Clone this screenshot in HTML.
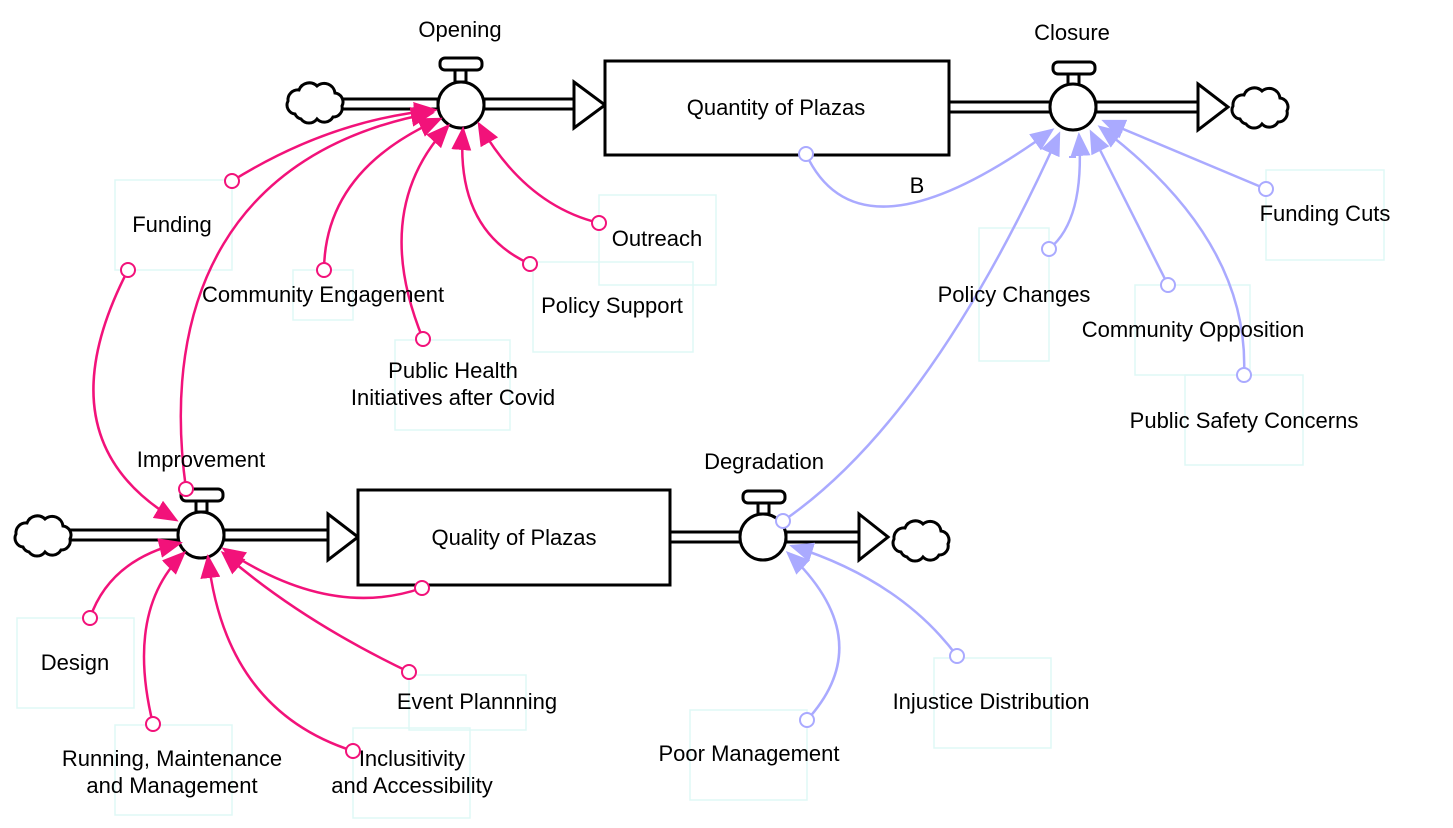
<!DOCTYPE html>
<html><head><meta charset="utf-8"><style>
html,body{margin:0;padding:0;background:#fff}
svg{display:block}
text{font-family:"Liberation Sans",Arial,sans-serif;font-size:22px;fill:#000}
</style></head><body>
<svg width="1453" height="828" viewBox="0 0 1453 828" xmlns="http://www.w3.org/2000/svg">
<defs>
<marker id="mp" markerWidth="24" markerHeight="20" refX="21" refY="10" orient="auto" markerUnits="userSpaceOnUse"><path d="M0,0 L24,10 L0,20 Z" fill="#f2127a"/></marker>
<marker id="mb" markerWidth="24" markerHeight="20" refX="21" refY="10" orient="auto" markerUnits="userSpaceOnUse"><path d="M0,0 L24,10 L0,20 Z" fill="#aaaaff"/></marker>
<g id="cloud"><path d="M-20,9 a9,9 0 0 1 -7,-13 a10,10 0 0 1 11,-11 a11,11 0 0 1 18,-4 a11,11 0 0 1 18,7 a9,9 0 0 1 7,13 a9,9 0 0 1 -9,11 a10,10 0 0 1 -16,2 a10,10 0 0 1 -16,0 a9,9 0 0 1 -6,-5 z" fill="#fff" stroke="#000" stroke-width="3"/></g>
</defs>

<g fill="none" stroke="#dff8f6" stroke-width="1.5">
<rect x="115" y="180" width="117" height="90"/><rect x="293" y="270" width="60" height="50"/>
<rect x="395" y="340" width="115" height="90"/><rect x="533" y="262" width="160" height="90"/>
<rect x="599" y="195" width="117" height="90"/><rect x="979" y="228" width="70" height="133"/>
<rect x="1135" y="285" width="115" height="90"/><rect x="1185" y="375" width="118" height="90"/>
<rect x="1266" y="170" width="118" height="90"/><rect x="17" y="618" width="117" height="90"/>
<rect x="115" y="725" width="117" height="90"/><rect x="353" y="728" width="117" height="90"/>
<rect x="409" y="675" width="117" height="55"/><rect x="690" y="710" width="117" height="90"/>
<rect x="934" y="658" width="117" height="90"/>
</g>

<g fill="#fff" stroke="#000" stroke-width="3">
<rect x="338" y="99" width="100" height="10"/>
<rect x="484" y="99" width="92" height="10"/>
<path d="M574,82 L605,105 L574,128 Z"/>
<rect x="949" y="102" width="102" height="10"/>
<rect x="1096" y="102" width="104" height="10"/>
<path d="M1198,84 L1228,107 L1198,130 Z"/>
<rect x="68" y="530" width="112" height="10"/>
<rect x="224" y="530" width="106" height="10"/>
<path d="M328,514 L358,537 L328,560 Z"/>
<rect x="670" y="532" width="72" height="10"/>
<rect x="786" y="532" width="75" height="10"/>
<path d="M859,514 L888,537 L859,560 Z"/>
</g>
<use href="#cloud" x="315" y="105"/>
<use href="#cloud" x="1260" y="110"/>
<use href="#cloud" x="43" y="538"/>
<use href="#cloud" x="921" y="543"/>

<rect x="605" y="61" width="344" height="94" fill="#fff" stroke="#000" stroke-width="3"/>
<rect x="358" y="490" width="312" height="95" fill="#fff" stroke="#000" stroke-width="3"/>
<text x="776" y="115" text-anchor="middle">Quantity of Plazas</text>
<text x="514" y="545" text-anchor="middle">Quality of Plazas</text>

<g fill="#fff" stroke="#000" stroke-width="3">
<rect x="440" y="58" width="42" height="12" rx="5"/><rect x="455" y="70" width="11" height="12"/><circle cx="461" cy="105" r="23"/>
<rect x="1053" y="62" width="42" height="12" rx="5"/><rect x="1068" y="74" width="11" height="11"/><circle cx="1073" cy="107" r="23"/>
<rect x="181" y="489" width="42" height="12" rx="5"/><rect x="196" y="501" width="11" height="11"/><circle cx="201" cy="535" r="23"/>
<rect x="743" y="491" width="42" height="12" rx="5"/><rect x="758" y="503" width="11" height="11"/><circle cx="763" cy="537" r="23"/>
</g>

<g fill="none" stroke="#f2127a" stroke-width="2.5">
<path d="M232,181 Q330,120 435,110" marker-end="url(#mp)"/>
<path d="M186,489 C160,300 230,150 432,113" marker-end="url(#mp)"/>
<path d="M324,270 Q325,170 440,119" marker-end="url(#mp)"/>
<path d="M423,339 Q370,210 448,126" marker-end="url(#mp)"/>
<path d="M530,264 Q455,230 463,129" marker-end="url(#mp)"/>
<path d="M599,223 Q525,205 479,124" marker-end="url(#mp)"/>
<path d="M128,270 Q40,440 176,520" marker-end="url(#mp)"/>
<path d="M90,618 Q110,560 180,543" marker-end="url(#mp)"/>
<path d="M153,724 Q125,610 184,553" marker-end="url(#mp)"/>
<path d="M353,751 Q225,710 208,557" marker-end="url(#mp)"/>
<path d="M409,672 Q300,620 223,553" marker-end="url(#mp)"/>
<path d="M422,588 Q330,620 224,549" marker-end="url(#mp)"/>
</g>
<g fill="#fff" stroke="#f2127a" stroke-width="2">
<circle cx="232" cy="181" r="7"/><circle cx="186" cy="489" r="7"/><circle cx="324" cy="270" r="7"/>
<circle cx="423" cy="339" r="7"/><circle cx="530" cy="264" r="7"/><circle cx="599" cy="223" r="7"/>
<circle cx="128" cy="270" r="7"/><circle cx="90" cy="618" r="7"/><circle cx="153" cy="724" r="7"/>
<circle cx="353" cy="751" r="7"/><circle cx="409" cy="672" r="7"/><circle cx="422" cy="588" r="7"/>
</g>

<g fill="none" stroke="#aaaaff" stroke-width="2.5">
<path d="M806,154 Q860,270 1052,130" marker-end="url(#mb)"/>
<path d="M783,521 Q930,420 1059,134" marker-end="url(#mb)"/>
<path d="M1049,249 Q1085,220 1079,135" marker-end="url(#mb)"/>
<path d="M1168,285 Q1130,210 1091,132" marker-end="url(#mb)"/>
<path d="M1244,375 Q1250,240 1100,127" marker-end="url(#mb)"/>
<path d="M1266,189 L1104,121" marker-end="url(#mb)"/>
<path d="M807,720 Q880,640 788,553" marker-end="url(#mb)"/>
<path d="M957,656 Q900,580 792,546" marker-end="url(#mb)"/>
</g>
<g fill="#fff" stroke="#aaaaff" stroke-width="2">
<circle cx="806" cy="154" r="7"/><circle cx="783" cy="521" r="7"/><circle cx="1049" cy="249" r="7"/>
<circle cx="1168" cy="285" r="7"/><circle cx="1244" cy="375" r="7"/><circle cx="1266" cy="189" r="7"/>
<circle cx="807" cy="720" r="7"/><circle cx="957" cy="656" r="7"/>
</g>
<line x1="1069" y1="157" x2="1076" y2="157" stroke="#aaaaff" stroke-width="2"/>

<text x="460" y="37" text-anchor="middle">Opening</text>
<text x="1072" y="40" text-anchor="middle">Closure</text>
<text x="201" y="467" text-anchor="middle">Improvement</text>
<text x="764" y="469" text-anchor="middle">Degradation</text>
<text x="917" y="193" text-anchor="middle">B</text>
<text x="172" y="232" text-anchor="middle">Funding</text>
<text x="323" y="302" text-anchor="middle">Community Engagement</text>
<text x="453" y="378" text-anchor="middle">Public Health</text>
<text x="453" y="405" text-anchor="middle">Initiatives after Covid</text>
<text x="612" y="313" text-anchor="middle">Policy Support</text>
<text x="657" y="246" text-anchor="middle">Outreach</text>
<text x="1014" y="302" text-anchor="middle">Policy Changes</text>
<text x="1193" y="337" text-anchor="middle">Community Opposition</text>
<text x="1244" y="428" text-anchor="middle">Public Safety Concerns</text>
<text x="1325" y="221" text-anchor="middle">Funding Cuts</text>
<text x="75" y="670" text-anchor="middle">Design</text>
<text x="172" y="766" text-anchor="middle">Running, Maintenance</text>
<text x="172" y="793" text-anchor="middle">and Management</text>
<text x="412" y="766" text-anchor="middle">Inclusitivity</text>
<text x="412" y="793" text-anchor="middle">and Accessibility</text>
<text x="477" y="709" text-anchor="middle">Event Plannning</text>
<text x="749" y="761" text-anchor="middle">Poor Management</text>
<text x="991" y="709" text-anchor="middle">Injustice Distribution</text>
</svg>
</body></html>
